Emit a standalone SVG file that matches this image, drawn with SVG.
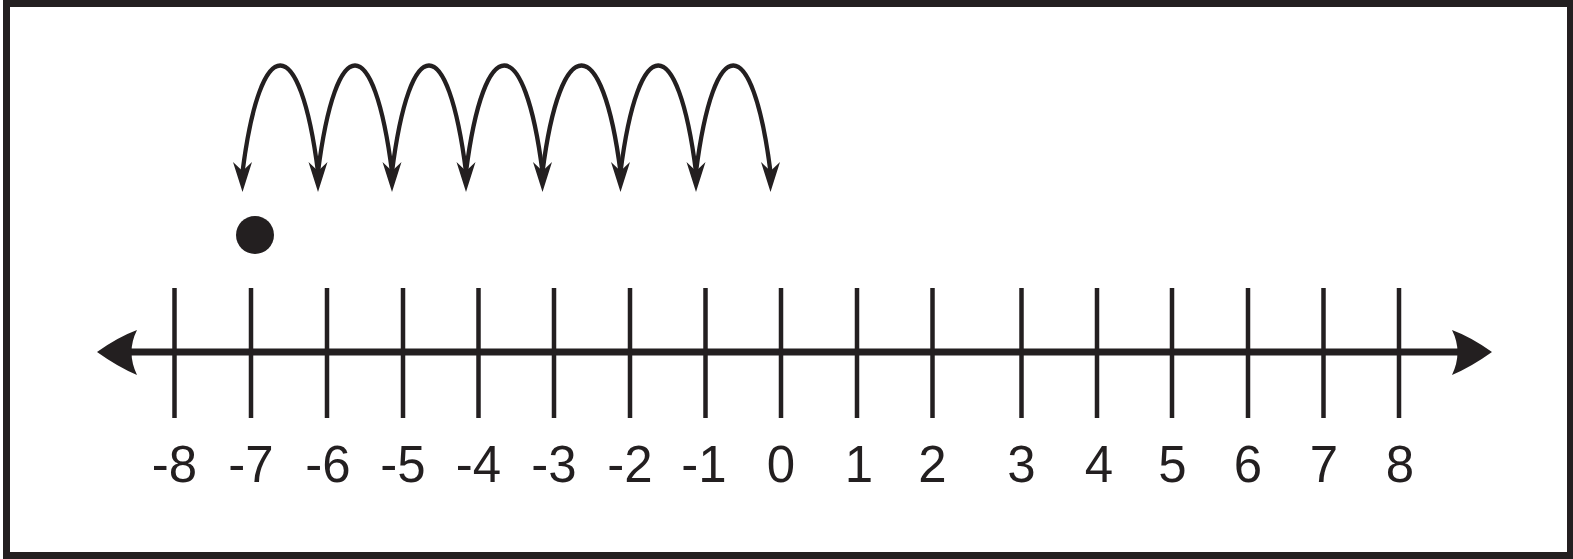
<svg xmlns="http://www.w3.org/2000/svg" width="1573" height="559" viewBox="0 0 1573 559">
<style>
.tick{stroke:#231f20;stroke-width:4.5;fill:none}
.arc{stroke:#231f20;stroke-width:4.3;fill:none}
.ah{fill:#231f20}
.lbl{font-family:"Liberation Sans",Arial,sans-serif;font-size:51px;fill:#231f20;text-anchor:middle}
</style>
<defs>
<path id="dn" d="M0,192 L-9.5,162 L0,171 L9.5,162 Z"/>
</defs>
<rect x="6.5" y="3.5" width="1564" height="552" fill="#fff" stroke="#231f20" stroke-width="7"/>
<g id="number-line">
<line x1="128" y1="352" x2="1462" y2="352" stroke="#231f20" stroke-width="7"/>
<path class="ah" d="M97,352 Q118,337 137,330 Q126,352 137,375 Q118,367 97,352 Z"/>
<path class="ah" d="M1492,352 Q1471,337 1452,330 Q1463,352 1452,375 Q1471,367 1492,352 Z"/>
<g>
<line class="tick" x1="174.5" y1="288" x2="174.5" y2="418"/>
<line class="tick" x1="251" y1="288" x2="251" y2="418"/>
<line class="tick" x1="327" y1="288" x2="327" y2="418"/>
<line class="tick" x1="403" y1="288" x2="403" y2="418"/>
<line class="tick" x1="478.5" y1="288" x2="478.5" y2="418"/>
<line class="tick" x1="554" y1="288" x2="554" y2="418"/>
<line class="tick" x1="630" y1="288" x2="630" y2="418"/>
<line class="tick" x1="705.5" y1="288" x2="705.5" y2="418"/>
<line class="tick" x1="781" y1="288" x2="781" y2="418"/>
<line class="tick" x1="857" y1="288" x2="857" y2="418"/>
<line class="tick" x1="932.5" y1="288" x2="932.5" y2="418"/>
<line class="tick" x1="1021.5" y1="288" x2="1021.5" y2="418"/>
<line class="tick" x1="1097" y1="288" x2="1097" y2="418"/>
<line class="tick" x1="1172" y1="288" x2="1172" y2="418"/>
<line class="tick" x1="1248" y1="288" x2="1248" y2="418"/>
<line class="tick" x1="1323.5" y1="288" x2="1323.5" y2="418"/>
<line class="tick" x1="1399" y1="288" x2="1399" y2="418"/>
</g>
<g>
<text class="lbl" x="174.5" y="481.5">-8</text>
<text class="lbl" x="251" y="481.5">-7</text>
<text class="lbl" x="328" y="481.5">-6</text>
<text class="lbl" x="403" y="481.5">-5</text>
<text class="lbl" x="478.5" y="481.5">-4</text>
<text class="lbl" x="554" y="481.5">-3</text>
<text class="lbl" x="630" y="481.5">-2</text>
<text class="lbl" x="704" y="481.5">-1</text>
<text class="lbl" x="781" y="481.5">0</text>
<text class="lbl" x="859" y="481.5">1</text>
<text class="lbl" x="932.5" y="481.5">2</text>
<text class="lbl" x="1021.5" y="481.5">3</text>
<text class="lbl" x="1099" y="481.5">4</text>
<text class="lbl" x="1172.5" y="481.5">5</text>
<text class="lbl" x="1248" y="481.5">6</text>
<text class="lbl" x="1324" y="481.5">7</text>
<text class="lbl" x="1400" y="481.5">8</text>
</g>
</g>
<g id="point">
<circle cx="255" cy="235" r="19" fill="#231f20"/>
</g>
<g id="jumps">
<path class="arc" d="M242.5,172 C260.5,30 300,30 318,172"/>
<path class="arc" d="M318,172 C336,30 374,30 392,172"/>
<path class="arc" d="M392,172 C410,30 448,30 466,172"/>
<path class="arc" d="M466,172 C484,30 524.5,30 542.5,172"/>
<path class="arc" d="M542.5,172 C560.5,30 602.5,30 620.5,172"/>
<path class="arc" d="M620.5,172 C638.5,30 678,30 696,172"/>
<path class="arc" d="M696,172 C714,30 752.5,30 770.5,172"/>
<use href="#dn" class="ah" x="242.5"/>
<use href="#dn" class="ah" x="318"/>
<use href="#dn" class="ah" x="392"/>
<use href="#dn" class="ah" x="466"/>
<use href="#dn" class="ah" x="542.5"/>
<use href="#dn" class="ah" x="620.5"/>
<use href="#dn" class="ah" x="696"/>
<use href="#dn" class="ah" x="770.5"/>
</g>
</svg>
